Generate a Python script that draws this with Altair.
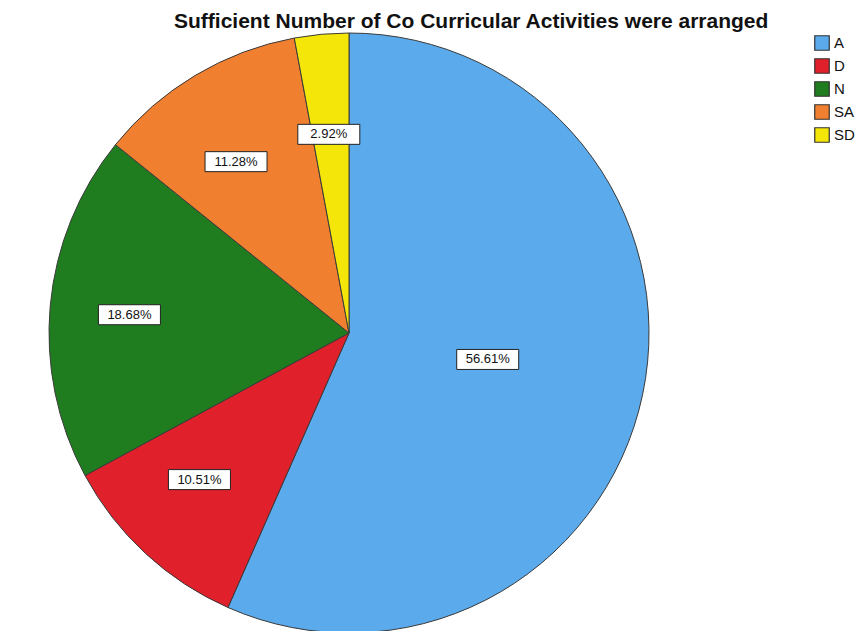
import altair as alt
import pandas as pd

categories = ["A", "D", "N", "SA", "SD"]
percents = [56.61, 10.51, 18.68, 11.28, 2.92]
labels = ["56.61%", "10.51%", "18.68%", "11.28%", "2.92%"]
colors = ["#5aaaec", "#e0202a", "#1f7d1f", "#f08030", "#f5e60a"]
title_text = "Sufficient Number of Co Curricular Activities were arranged"

df = pd.DataFrame({
    "cat": categories,
    "pct": percents,
    "label": labels,
    "order": list(range(len(categories))),
})

CX, CY, R = 341, 325, 300
FONT = "Liberation Sans"

base = alt.Chart(df)

pie = base.mark_arc(stroke="#3a3a3a", strokeWidth=1, radius=R).encode(
    theta=alt.Theta("pct:Q", stack=True),
    order=alt.Order("order:Q"),
    color=alt.Color(
        "cat:N",
        scale=alt.Scale(domain=categories, range=colors),
        legend=alt.Legend(
            title=None,
            orient="none",
            legendX=806,
            legendY=27,
            symbolType="square",
            symbolSize=210,
            symbolStrokeColor="#333333",
            symbolStrokeWidth=1.2,
            labelFont=FONT,
            labelFontSize=15,
            labelColor="#111111",
            rowPadding=3,
            labelOffset=4,
        ),
    ),
    x=alt.value(CX),
    y=alt.value(CY),
)

pos = base.transform_window(
    cum="sum(pct)", sort=[alt.SortField("order")], frame=[None, 0]
).transform_calculate(
    ang="2 * PI * (datum.cum - datum.pct / 2) / 100",
    rr=f"datum.pct > 50 ? {R} * 0.45 : {R} * 0.70",
).transform_calculate(
    lx=f"{CX} + datum.rr * sin(datum.ang) * 1.05",
    ly=f"{CY} - datum.rr * cos(datum.ang) * 0.95",
).transform_calculate(
    bx1="datum.lx - 31", bx2="datum.lx + 31",
    by1="datum.ly - 10", by2="datum.ly + 10",
)

boxes = pos.mark_rect(fill="white", stroke="#222222", strokeWidth=1).encode(
    x=alt.X("bx1:Q", scale=None, axis=None),
    x2="bx2:Q",
    y=alt.Y("by1:Q", scale=None, axis=None),
    y2="by2:Q",
)

texts = pos.mark_text(font=FONT, fontSize=13, color="#111111",
                      align="center", baseline="middle").encode(
    x=alt.X("lx:Q", scale=None, axis=None),
    y=alt.Y("ly:Q", scale=None, axis=None),
    text="label:N",
)

title = alt.Chart(pd.DataFrame({"t": [title_text]})).mark_text(
    font=FONT, fontSize=21, fontWeight="bold", color="#111111",
    align="left", baseline="alphabetic",
).encode(text="t:N", x=alt.value(166), y=alt.value(20))

chart = alt.layer(pie, boxes, texts, title).properties(
    width=849, height=623, padding=0, autosize="none", background="white",
).configure_view(stroke=None, strokeWidth=0)

chart.save("out.html", embed_options={"renderer": "svg", "actions": False})
